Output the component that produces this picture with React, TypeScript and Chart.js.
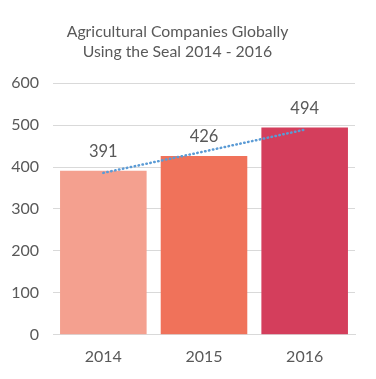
import React, { useEffect, useRef } from "react";
import { Chart, registerables } from "chart.js";

Chart.register(...registerables);

const categories = ["2014", "2015", "2016"];
const values = [391, 426, 494];
const trendValues = [386, 437, 489];
const barColors = ["#F4A08F", "#F0725A", "#D43E5C"];
const titleLines = ["Agricultural Companies Globally", "Using the Seal 2014 - 2016"];
const yMin = 0;
const yMax = 600;
const yStep = 100;

const FONT = "Lato, 'Open Sans', sans-serif";
const TEXT = "#595959";

const dataLabels = {
  id: "dataLabels",
  afterDatasetsDraw(chart: any) {
    const meta = chart.getDatasetMeta(0);
    const ctx = chart.ctx;
    ctx.save();
    ctx.font = `16.5px ${FONT}`;
    ctx.fillStyle = TEXT;
    ctx.textAlign = "center";
    ctx.textBaseline = "middle";
    meta.data.forEach((el: any, i: number) => {
      ctx.fillText(String(values[i]), el.x, el.y - 19);
    });
    ctx.restore();
  },
};

export default function App() {
  const ref = useRef<HTMLCanvasElement>(null);
  useEffect(() => {
    if (!ref.current) return;
    const chart = new Chart(ref.current, {
      type: "bar",
      data: {
        labels: categories,
        datasets: [
          {
            type: "bar",
            data: values,
            backgroundColor: barColors,
            barPercentage: 0.86,
            categoryPercentage: 1,
            order: 2,
          } as any,
          {
            type: "line",
            data: trendValues,
            borderColor: "#5B9BD5",
            borderWidth: 2.5,
            borderDash: [0.5, 3.5],
            borderCapStyle: "round",
            pointRadius: 0,
            fill: false,
            order: 1,
          } as any,
        ],
      },
      options: {
        animation: false,
        responsive: false,
        layout: { padding: { left: 0, right: 21, top: 0, bottom: 0 } },
        plugins: {
          legend: { display: false },
          tooltip: { enabled: false },
          title: {
            display: true,
            text: titleLines,
            color: TEXT,
            font: { family: FONT, size: 15.8, weight: "normal", lineHeight: 1.27 },
            padding: { top: 22, bottom: 21 },
          },
        },
        scales: {
          x: {
            grid: { display: false, drawTicks: false },
            border: { display: true, color: "#D9D9D9", width: 1 },
            ticks: { color: TEXT, font: { family: FONT, size: 16 }, padding: 12.5 },
          },
          y: {
            min: yMin,
            max: yMax,
            ticks: {
              stepSize: yStep,
              color: TEXT,
              font: { family: FONT, size: 16 },
              padding: 14,
            },
            grid: { color: "#D9D9D9", drawTicks: false },
            border: { display: false },
            afterFit(scale: any) {
              scale.width = 53;
            },
          },
        },
      },
      plugins: [dataLabels],
    });
    return () => chart.destroy();
  }, []);
  return (
    <div style={{ position: "fixed", left: 0, top: 0, width: 376, height: 379, background: "#fff" }}>
      <canvas ref={ref} width={376} height={379} />
    </div>
  );
}
